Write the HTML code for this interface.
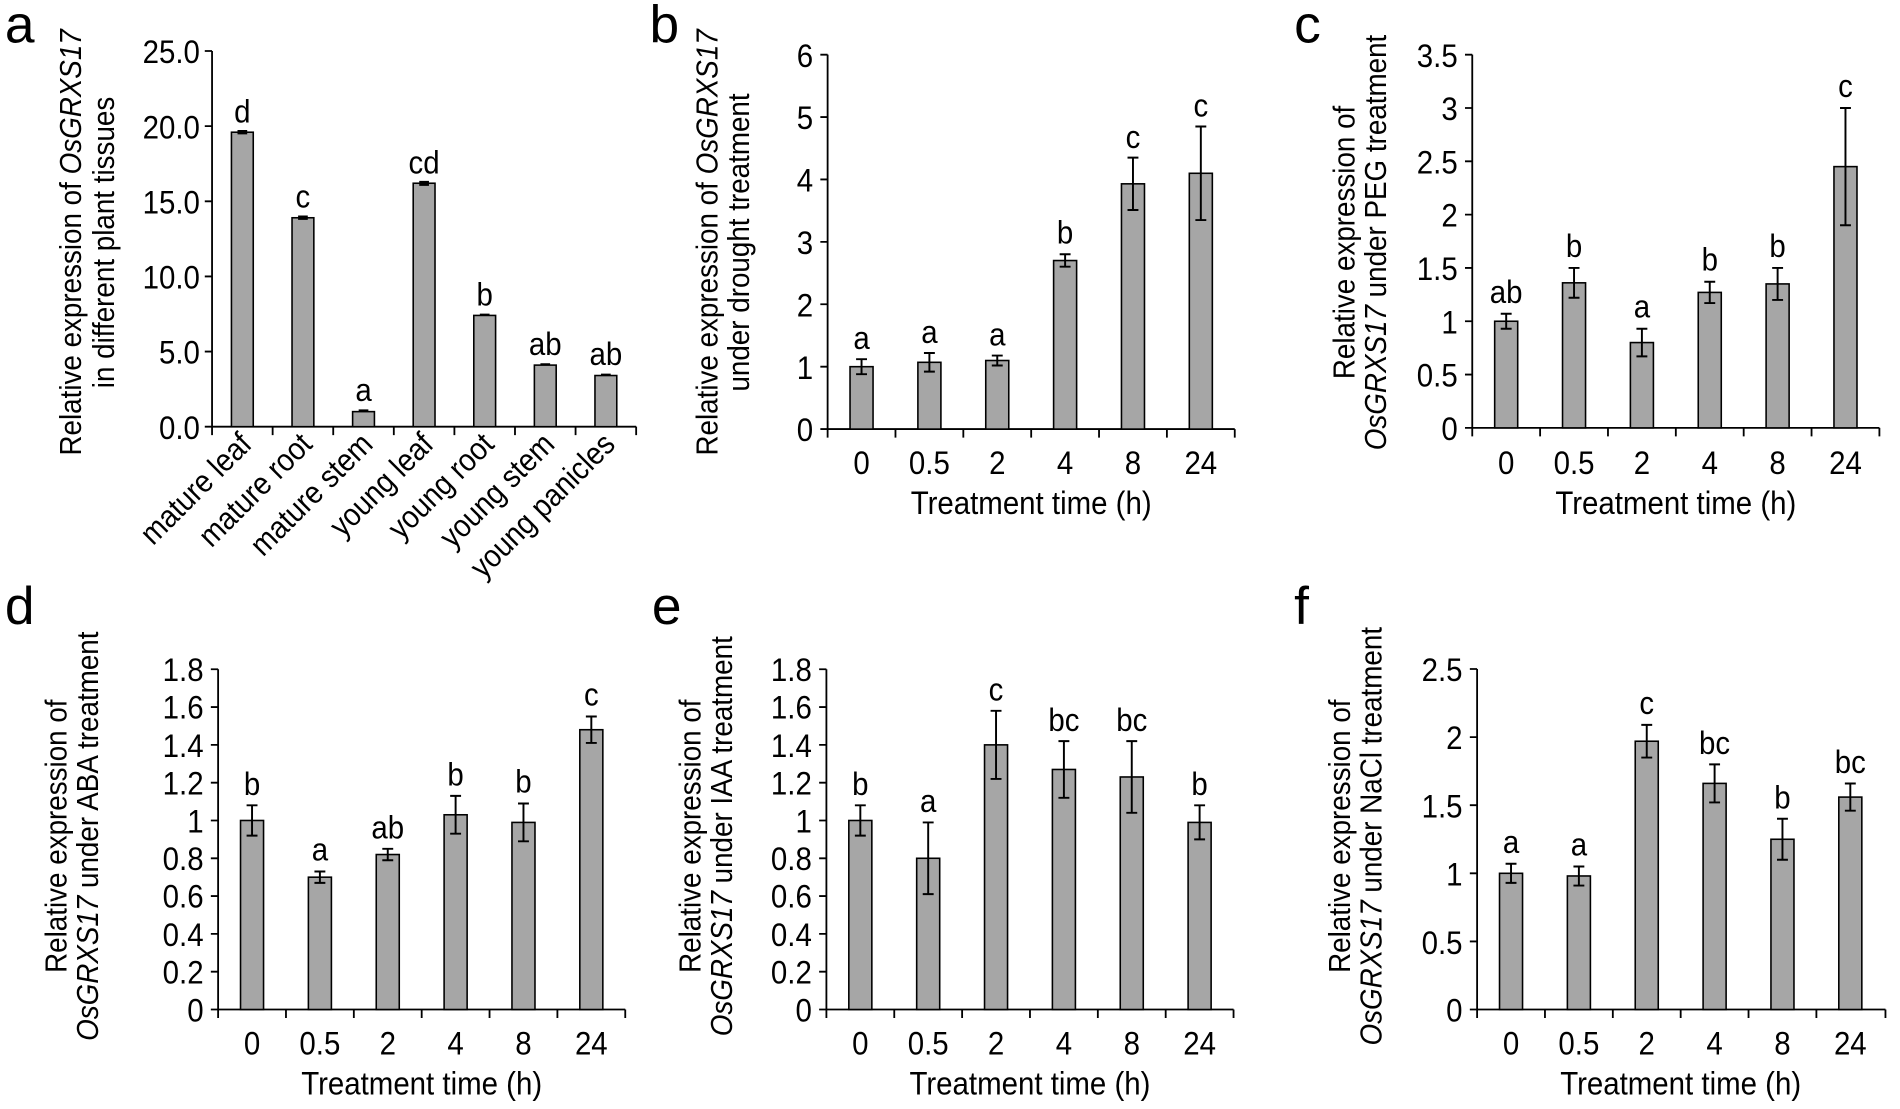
<!DOCTYPE html>
<html><head><meta charset="utf-8"><style>
html,body{margin:0;padding:0;background:#fff}
svg{display:block}
text{font-family:"Liberation Sans",Arial,sans-serif;fill:#000;transform-box:fill-box;transform-origin:center;transform:scaleX(.9)}
.t{font-size:27px;text-anchor:end;transform-origin:right center}
.x{font-size:27px;text-anchor:middle}
.l{font-size:27px;text-anchor:middle}
.tt{font-size:27px;text-anchor:middle}
.yt{font-size:25.5px;text-anchor:middle}
.c{font-size:26px;text-anchor:end;transform-origin:right center}
.p{font-size:44px;transform:none}
.ax{stroke:#000;stroke-width:1.5;fill:none}
.bar{fill:#a6a6a6;stroke:#000;stroke-width:1.3}
.e{stroke:#000;stroke-width:1.6;fill:none}
</style></head><body>
<svg width="1900" height="1109" viewBox="0 0 1568 915" xmlns="http://www.w3.org/2000/svg">
<!-- Panel a -->
<text class="p" x="4" y="35">a</text>
<path class="ax" d="M175,42V352H525M169,42H175M169,104H175M169,166H175M169,228H175M169,290H175M169,352H175M175,352V359M225,352V359M275,352V359M325,352V359M375,352V359M425,352V359M475,352V359M525,352V359"/>
<text class="t" x="165" y="52">25.0</text><text class="t" x="165" y="114">20.0</text><text class="t" x="165" y="176">15.0</text><text class="t" x="165" y="238">10.0</text><text class="t" x="165" y="300">5.0</text><text class="t" x="165" y="362">0.0</text>
<rect class="bar" x="191" y="109" width="18" height="243"/>
<rect class="bar" x="241" y="179.6" width="18" height="172.4"/>
<rect class="bar" x="291" y="339.6" width="18" height="12.4"/>
<rect class="bar" x="341" y="151.1" width="18" height="200.9"/>
<rect class="bar" x="391" y="260.2" width="18" height="91.8"/>
<rect class="bar" x="441" y="301.2" width="18" height="50.8"/>
<rect class="bar" x="491" y="309.8" width="18" height="42.2"/>
<path class="e" d="M196,108H204M196,110H204M246,178.5H254M246,180.5H254M296,338.5H304M346,150H354M346,152.5H354M396,259.5H404M446,300.5H454M496,309H504"/>
<text class="l" x="200" y="101">d</text><text class="l" x="250" y="171">c</text><text class="l" x="300" y="331">a</text><text class="l" x="350" y="143">cd</text><text class="l" x="400" y="252">b</text><text class="l" x="450" y="293">ab</text><text class="l" x="500" y="301">ab</text>
<g transform="translate(209,368) rotate(-45)"><text class="c">mature leaf</text></g>
<g transform="translate(259,368) rotate(-45)"><text class="c">mature root</text></g>
<g transform="translate(309,368) rotate(-45)"><text class="c">mature stem</text></g>
<g transform="translate(359,368) rotate(-45)"><text class="c">young leaf</text></g>
<g transform="translate(409,368) rotate(-45)"><text class="c">young root</text></g>
<g transform="translate(459,368) rotate(-45)"><text class="c">young stem</text></g>
<g transform="translate(509,368) rotate(-45)"><text class="c">young panicles</text></g>
<g transform="translate(67,200) rotate(-90)"><text class="yt">Relative expression of <tspan font-style="italic">OsGRXS17</tspan></text></g>
<g transform="translate(94,200) rotate(-90)"><text class="yt">in different plant tissues</text></g>

<!-- Panel b -->
<text class="p" x="536" y="35">b</text>
<path class="ax" d="M683,45V354H1019M677,45H683M677,96.5H683M677,148H683M677,199.5H683M677,251H683M677,302.5H683M677,354H683M683,354V361M739,354V361M795,354V361M851,354V361M907,354V361M963,354V361M1019,354V361"/>
<text class="t" x="671" y="55">6</text><text class="t" x="671" y="106.5">5</text><text class="t" x="671" y="158">4</text><text class="t" x="671" y="209.5">3</text><text class="t" x="671" y="261">2</text><text class="t" x="671" y="312.5">1</text><text class="t" x="671" y="364">0</text>
<rect class="bar" x="701.5" y="302.5" width="19" height="51.5"/>
<rect class="bar" x="757.5" y="298.9" width="19" height="55.1"/>
<rect class="bar" x="813.5" y="297.4" width="19" height="56.6"/>
<rect class="bar" x="869.5" y="214.9" width="19" height="139.1"/>
<rect class="bar" x="925.5" y="151.6" width="19" height="202.4"/>
<rect class="bar" x="981.5" y="142.9" width="19" height="211.1"/>
<path class="e" d="M711,296.3V308.7M706.5,296.3H715.5M706.5,308.7H715.5M767,291.2V306.6M762.5,291.2H771.5M762.5,306.6H771.5M823,293.3V301.5M818.5,293.3H827.5M818.5,301.5H827.5M879,209.7V220M874.5,209.7H883.5M874.5,220H883.5M935,130V173.2M930.5,130H939.5M930.5,173.2H939.5M991,104.3V181.5M986.5,104.3H995.5M986.5,181.5H995.5"/>
<text class="l" x="711" y="288">a</text><text class="l" x="767" y="283">a</text><text class="l" x="823" y="285">a</text><text class="l" x="879" y="201">b</text><text class="l" x="935" y="122">c</text><text class="l" x="991" y="96">c</text>
<text class="x" x="711" y="391">0</text><text class="x" x="767" y="391">0.5</text><text class="x" x="823" y="391">2</text><text class="x" x="879" y="391">4</text><text class="x" x="935" y="391">8</text><text class="x" x="991" y="391">24</text>
<text class="tt" x="851" y="424">Treatment time (h)</text>
<g transform="translate(592,200) rotate(-90)"><text class="yt">Relative expression of <tspan font-style="italic">OsGRXS17</tspan></text></g>
<g transform="translate(618,200) rotate(-90)"><text class="yt">under drought treatment</text></g>

<!-- Panel c -->
<text class="p" x="1068" y="35">c</text>
<path class="ax" d="M1215,45V353H1551M1209,45H1215M1209,89H1215M1209,133H1215M1209,177H1215M1209,221H1215M1209,265H1215M1209,309H1215M1209,353H1215M1215,353V360M1271,353V360M1327,353V360M1383,353V360M1439,353V360M1495,353V360M1551,353V360"/>
<text class="t" x="1203" y="55">3.5</text><text class="t" x="1203" y="99">3</text><text class="t" x="1203" y="143">2.5</text><text class="t" x="1203" y="187">2</text><text class="t" x="1203" y="231">1.5</text><text class="t" x="1203" y="275">1</text><text class="t" x="1203" y="319">0.5</text><text class="t" x="1203" y="363">0</text>
<rect class="bar" x="1233.5" y="265" width="19" height="88"/>
<rect class="bar" x="1289.5" y="233.3" width="19" height="119.7"/>
<rect class="bar" x="1345.5" y="282.6" width="19" height="70.4"/>
<rect class="bar" x="1401.5" y="241.2" width="19" height="111.8"/>
<rect class="bar" x="1457.5" y="234.2" width="19" height="118.8"/>
<rect class="bar" x="1513.5" y="137.4" width="19" height="215.6"/>
<path class="e" d="M1243,258.8V271.2M1238.5,258.8H1247.5M1238.5,271.2H1247.5M1299,221V245.6M1294.5,221H1303.5M1294.5,245.6H1303.5M1355,271.2V294M1350.5,271.2H1359.5M1350.5,294H1359.5M1411,232.4V250M1406.5,232.4H1415.5M1406.5,250H1415.5M1467,221V247.4M1462.5,221H1471.5M1462.5,247.4H1471.5M1523,89V185.8M1518.5,89H1527.5M1518.5,185.8H1527.5"/>
<text class="l" x="1243" y="250">ab</text><text class="l" x="1299" y="212">b</text><text class="l" x="1355" y="262">a</text><text class="l" x="1411" y="223">b</text><text class="l" x="1467" y="212">b</text><text class="l" x="1523" y="80">c</text>
<text class="x" x="1243" y="391">0</text><text class="x" x="1299" y="391">0.5</text><text class="x" x="1355" y="391">2</text><text class="x" x="1411" y="391">4</text><text class="x" x="1467" y="391">8</text><text class="x" x="1523" y="391">24</text>
<text class="tt" x="1383" y="424">Treatment time (h)</text>
<g transform="translate(1118,200) rotate(-90)"><text class="yt">Relative expression of</text></g>
<g transform="translate(1144,200) rotate(-90)"><text class="yt"><tspan font-style="italic">OsGRXS17</tspan> under PEG treatment</text></g>

<!-- Panel d -->
<text class="p" x="4" y="515">d</text>
<path class="ax" d="M180,552.2V833H516M174,552.2H180M174,583.4H180M174,614.6H180M174,645.8H180M174,677H180M174,708.2H180M174,739.4H180M174,770.6H180M174,801.8H180M174,833H180M180,833V840M236,833V840M292,833V840M348,833V840M404,833V840M460,833V840M516,833V840"/>
<text class="t" x="168" y="562">1.8</text><text class="t" x="168" y="593">1.6</text><text class="t" x="168" y="624.5">1.4</text><text class="t" x="168" y="655.5">1.2</text><text class="t" x="168" y="687">1</text><text class="t" x="168" y="718">0.8</text><text class="t" x="168" y="749">0.6</text><text class="t" x="168" y="780.5">0.4</text><text class="t" x="168" y="811.5">0.2</text><text class="t" x="168" y="843">0</text>
<rect class="bar" x="198.5" y="677" width="19" height="156"/>
<rect class="bar" x="254.5" y="723.8" width="19" height="109.2"/>
<rect class="bar" x="310.5" y="705.1" width="19" height="127.9"/>
<rect class="bar" x="366.5" y="672.3" width="19" height="160.7"/>
<rect class="bar" x="422.5" y="678.6" width="19" height="154.4"/>
<rect class="bar" x="478.5" y="602.1" width="19" height="230.9"/>
<path class="e" d="M208,664.5V689.5M203.5,664.5H212.5M203.5,689.5H212.5M264,719.1V728.5M259.5,719.1H268.5M259.5,728.5H268.5M320,700.4V709.8M315.5,700.4H324.5M315.5,709.8H324.5M376,656.7V687.9M371.5,656.7H380.5M371.5,687.9H380.5M432,663V694.2M427.5,663H436.5M427.5,694.2H436.5M488,591.2V613M483.5,591.2H492.5M483.5,613H492.5"/>
<text class="l" x="208" y="656">b</text><text class="l" x="264" y="710">a</text><text class="l" x="320" y="692">ab</text><text class="l" x="376" y="648">b</text><text class="l" x="432" y="654">b</text><text class="l" x="488" y="582">c</text>
<text class="x" x="208" y="870">0</text><text class="x" x="264" y="870">0.5</text><text class="x" x="320" y="870">2</text><text class="x" x="376" y="870">4</text><text class="x" x="432" y="870">8</text><text class="x" x="488" y="870">24</text>
<text class="tt" x="348" y="903">Treatment time (h)</text>
<g transform="translate(55,690) rotate(-90)"><text class="yt">Relative expression of</text></g>
<g transform="translate(81,690) rotate(-90)"><text class="yt"><tspan font-style="italic">OsGRXS17</tspan> under ABA treatment</text></g>

<!-- Panel e -->
<text class="p" x="538" y="515">e</text>
<path class="ax" d="M682,552.2V833H1018M676,552.2H682M676,583.4H682M676,614.6H682M676,645.8H682M676,677H682M676,708.2H682M676,739.4H682M676,770.6H682M676,801.8H682M676,833H682M682,833V840M738,833V840M794,833V840M850,833V840M906,833V840M962,833V840M1018,833V840"/>
<text class="t" x="670" y="562">1.8</text><text class="t" x="670" y="593">1.6</text><text class="t" x="670" y="624.5">1.4</text><text class="t" x="670" y="655.5">1.2</text><text class="t" x="670" y="687">1</text><text class="t" x="670" y="718">0.8</text><text class="t" x="670" y="749">0.6</text><text class="t" x="670" y="780.5">0.4</text><text class="t" x="670" y="811.5">0.2</text><text class="t" x="670" y="843">0</text>
<rect class="bar" x="700.5" y="677" width="19" height="156"/>
<rect class="bar" x="756.5" y="708.2" width="19" height="124.8"/>
<rect class="bar" x="812.5" y="614.6" width="19" height="218.4"/>
<rect class="bar" x="868.5" y="634.9" width="19" height="198.1"/>
<rect class="bar" x="924.5" y="641.1" width="19" height="191.9"/>
<rect class="bar" x="980.5" y="678.6" width="19" height="154.4"/>
<path class="e" d="M710,664.5V689.5M705.5,664.5H714.5M705.5,689.5H714.5M766,678.6V737.8M761.5,678.6H770.5M761.5,737.8H770.5M822,586.5V642.7M817.5,586.5H826.5M817.5,642.7H826.5M878,611.5V658.3M873.5,611.5H882.5M873.5,658.3H882.5M934,611.5V670.7M929.5,611.5H938.5M929.5,670.7H938.5M990,664.5V692.6M985.5,664.5H994.5M985.5,692.6H994.5"/>
<text class="l" x="710" y="656">b</text><text class="l" x="766" y="670">a</text><text class="l" x="822" y="578">c</text><text class="l" x="878" y="603">bc</text><text class="l" x="934" y="603">bc</text><text class="l" x="990" y="656">b</text>
<text class="x" x="710" y="870">0</text><text class="x" x="766" y="870">0.5</text><text class="x" x="822" y="870">2</text><text class="x" x="878" y="870">4</text><text class="x" x="934" y="870">8</text><text class="x" x="990" y="870">24</text>
<text class="tt" x="850" y="903">Treatment time (h)</text>
<g transform="translate(578,690) rotate(-90)"><text class="yt">Relative expression of</text></g>
<g transform="translate(604,690) rotate(-90)"><text class="yt"><tspan font-style="italic">OsGRXS17</tspan> under IAA treatment</text></g>

<!-- Panel f -->
<text class="p" x="1068" y="515">f</text>
<path class="ax" d="M1219,552V833H1556M1213,552H1219M1213,608.2H1219M1213,664.4H1219M1213,720.6H1219M1213,776.8H1219M1213,833H1219M1219,833V840M1275,833V840M1331,833V840M1387,833V840M1443,833V840M1499,833V840M1556,833V840"/>
<text class="t" x="1207" y="562">2.5</text><text class="t" x="1207" y="618">2</text><text class="t" x="1207" y="674.5">1.5</text><text class="t" x="1207" y="730.5">1</text><text class="t" x="1207" y="787">0.5</text><text class="t" x="1207" y="843">0</text>
<rect class="bar" x="1237.5" y="720.6" width="19" height="112.4"/>
<rect class="bar" x="1293.5" y="722.8" width="19" height="110.2"/>
<rect class="bar" x="1349.5" y="611.6" width="19" height="221.4"/>
<rect class="bar" x="1405.5" y="646.4" width="19" height="186.6"/>
<rect class="bar" x="1461.5" y="692.5" width="19" height="140.5"/>
<rect class="bar" x="1517.5" y="657.7" width="19" height="175.3"/>
<path class="e" d="M1247,712.7V728.5M1242.5,712.7H1251.5M1242.5,728.5H1251.5M1303,715V730.7M1298.5,715H1307.5M1298.5,730.7H1307.5M1359,598.1V625.1M1354.5,598.1H1363.5M1354.5,625.1H1363.5M1415,630.7V662.1M1410.5,630.7H1419.5M1410.5,662.1H1419.5M1471,675.6V709.4M1466.5,675.6H1475.5M1466.5,709.4H1475.5M1527,646.5V668.9M1522.5,646.5H1531.5M1522.5,668.9H1531.5"/>
<text class="l" x="1247" y="704">a</text><text class="l" x="1303" y="706">a</text><text class="l" x="1359" y="589">c</text><text class="l" x="1415" y="622">bc</text><text class="l" x="1471" y="667">b</text><text class="l" x="1527" y="638">bc</text>
<text class="x" x="1247" y="870">0</text><text class="x" x="1303" y="870">0.5</text><text class="x" x="1359" y="870">2</text><text class="x" x="1415" y="870">4</text><text class="x" x="1471" y="870">8</text><text class="x" x="1527" y="870">24</text>
<text class="tt" x="1387" y="903">Treatment time (h)</text>
<g transform="translate(1114,690) rotate(-90)"><text class="yt">Relative expression of</text></g>
<g transform="translate(1140,690) rotate(-90)"><text class="yt"><tspan font-style="italic">OsGRXS17</tspan> under NaCl treatment</text></g>
</svg>
</body></html>
